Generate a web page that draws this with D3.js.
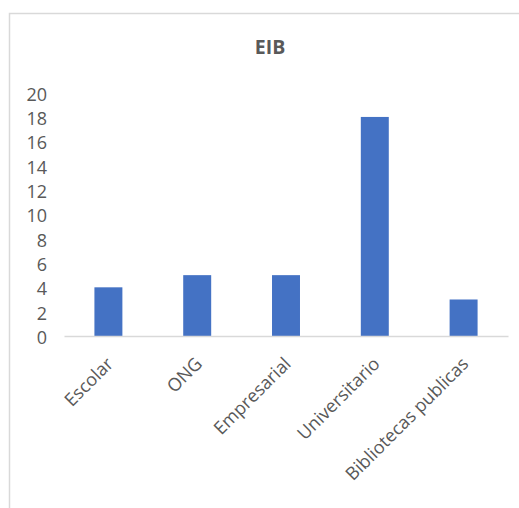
<!DOCTYPE html>
<html><head><meta charset="utf-8">
<script src="https://cdn.jsdelivr.net/npm/d3@7"></script>
<style>body{margin:0;background:#fff}svg{display:block}</style>
</head><body>
<script>
const categories = ["Escolar","ONG","Empresarial","Universitario","Bibliotecas publicas"];
const values = [4,5,5,18,3];
const yTicks = [0,2,4,6,8,10,12,14,16,18,20];
const title = "EIB";

const W=519,H=508;
const svg=d3.select("body").append("svg").attr("width",W).attr("height",H);
svg.append("rect").attr("x",9.5).attr("y",13.5).attr("width",W).attr("height",H)
  .attr("fill","#fff").attr("stroke","#d9d9d9").attr("stroke-width",1.5);

const x=d3.scaleBand().domain(categories).range([64,508]).paddingInner(0.685).paddingOuter(0.3425);
const y=d3.scaleLinear().domain([0,20]).range([336,92.6]);

svg.append("text").attr("x",270).attr("y",54).attr("text-anchor","middle")
  .attr("font-family","'Open Sans', sans-serif").attr("font-weight","bold").attr("font-size",19.5)
  .attr("fill","#595959").text(title);

const yAxis=svg.append("g").attr("transform","translate(47,0)")
  .call(d3.axisLeft(y).tickValues(yTicks).tickSize(0).tickPadding(0));
yAxis.select(".domain").remove();
yAxis.selectAll("text").attr("font-family","'Open Sans', sans-serif").attr("font-size",18).attr("fill","#595959")
  .attr("dy","0.42em");

svg.selectAll("rect.bar").data(values).enter().append("rect").attr("class","bar")
  .attr("x",(d,i)=>x(categories[i])).attr("width",x.bandwidth())
  .attr("y",d=>y(d)).attr("height",d=>y(0)-y(d)).attr("fill","#4472c4");

const xAxis=svg.append("g").attr("transform","translate(0,336)")
  .call(d3.axisBottom(x).tickSize(0).tickPadding(0));
xAxis.select(".domain").attr("stroke","#d9d9d9").attr("stroke-width",1.5);
xAxis.selectAll("text").attr("font-family","'Open Sans', sans-serif").attr("font-size",18).attr("fill","#595959")
  .attr("text-anchor","end").attr("dy",null)
  .attr("transform","translate(6,29) rotate(-45)");
</script>
</body></html>
